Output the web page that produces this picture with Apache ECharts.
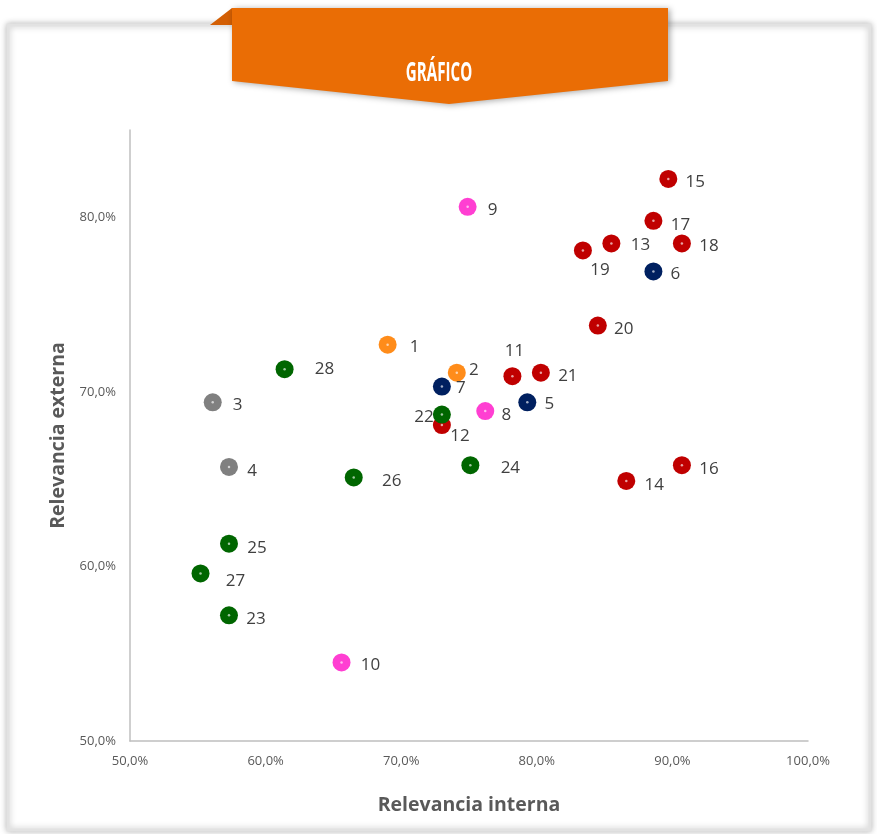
<!DOCTYPE html>
<html>
<head>
<meta charset="utf-8">
<script src="https://cdn.jsdelivr.net/npm/echarts@6/dist/echarts.min.js"></script>
<style>
html,body{margin:0;padding:0;background:#fff;}
#c{width:877px;height:834px;}
</style>
</head>
<body>
<div id="c"></div>
<script>
// ---- data ----
const ids = [1,2,3,4,5,6,7,8,9,10,11,12,13,14,15,16,17,18,19,20,21,22,23,24,25,26,27,28];
const interna = [0.690,0.741,0.561,0.573,0.793,0.886,0.730,0.762,0.749,0.656,0.782,0.730,0.855,0.866,0.897,0.907,0.886,0.907,0.834,0.845,0.803,0.730,0.573,0.751,0.573,0.665,0.552,0.614];
const externa = [0.727,0.711,0.694,0.657,0.694,0.769,0.703,0.689,0.806,0.545,0.709,0.681,0.785,0.649,0.822,0.658,0.798,0.785,0.781,0.738,0.711,0.687,0.572,0.658,0.613,0.651,0.596,0.713];
const grupo = ['naranja','naranja','gris','gris','azul','azul','azul','rosa','rosa','rosa','rojo','rojo','rojo','rojo','rojo','rojo','rojo','rojo','rojo','rojo','rojo','verde','verde','verde','verde','verde','verde','verde'];
const xTicks = [0.5,0.6,0.7,0.8,0.9,1.0];
const yTicks = [0.5,0.6,0.7,0.8];

// ---- styling / layout ----
const colors = {rojo:'#C00000', azul:'#002060', verde:'#006600', rosa:'#FF3FD2', naranja:'#FF8C1A', gris:'#808080'};
const labelOffset = {
  1:[27,2],2:[17,-2],3:[25,3],4:[23,4],5:[22,2],6:[22,3],7:[19,2],8:[21,4],9:[25,3],10:[29,3],
  11:[2,-25],12:[18,11],13:[29,2],14:[28,4],15:[27,3],16:[27,4],17:[27,4],18:[27,3],19:[17,20],
  20:[26,4],21:[27,4],22:[-18,3],23:[27,4],24:[40,3],25:[28,4],26:[38,4],27:[35,8],28:[40,0]
};
const fmt = v => (v*100).toFixed(1).replace('.', ',') + '%';

const groups = ['naranja','gris','azul','rosa','rojo','verde'];
const series = groups.map(g => ({
  type:'scatter', name:g, symbolSize:18,
  itemStyle:{color:colors[g], opacity:1},
  data: ids.map((id,i)=>({id, i})).filter(o=>grupo[o.i]===g).map(o=>({
    value:[interna[o.i], externa[o.i]],
    label:{show:true, formatter:String(o.id), position:'inside', offset:labelOffset[o.id]}
  })),
  label:{color:'#404040', fontSize:17, fontFamily:'Open Sans, Liberation Sans, sans-serif', align:'center', verticalAlign:'middle'},
  emphasis:{disabled:true}, z:3
}));
series.push({
  type:'scatter', symbolSize:2.5, silent:true, z:4,
  itemStyle:{color:'rgba(255,255,255,0.8)'},
  data: ids.map((id,i)=>[interna[i], externa[i]])
});

const chart = echarts.init(document.getElementById('c'), null, {renderer:'canvas'});
chart.setOption({
  animation:false,
  backgroundColor:'#ffffff',
  grid:{left:130, right:69, top:130, bottom:93, containLabel:false},
  xAxis:{
    type:'value', min:xTicks[0], max:xTicks[xTicks.length-1], interval:0.1,
    splitLine:{show:false}, axisTick:{show:false},
    axisLine:{show:true, lineStyle:{color:'#BFBFBF', width:1.5}},
    axisLabel:{color:'#595959', fontSize:13, fontFamily:'Open Sans, sans-serif', margin:14, formatter:fmt},
    name:'Relevancia interna', nameLocation:'middle', nameGap:54,
    nameTextStyle:{color:'#595959', fontSize:19.5, fontWeight:'bold', fontFamily:'Open Sans, sans-serif'}
  },
  yAxis:{
    type:'value', min:yTicks[0], max:0.85, interval:0.1,
    splitLine:{show:false}, axisTick:{show:false},
    axisLine:{show:true, lineStyle:{color:'#BFBFBF', width:1.5}},
    axisLabel:{color:'#595959', fontSize:13, fontFamily:'Open Sans, sans-serif', margin:14, showMaxLabel:false,
      formatter:v => yTicks.some(t=>Math.abs(t-v)<1e-6) ? fmt(v) : ''},
    name:'Relevancia externa', nameLocation:'middle', nameGap:62,
    nameTextStyle:{color:'#595959', fontSize:19.5, fontWeight:'bold', fontFamily:'Open Sans, sans-serif'}
  },
  graphic:[
    {type:'rect', z:-10, shape:{x:8, y:25, width:862, height:805},
      style:{fill:'#ffffff', stroke:'#e2e2e2', lineWidth:3, shadowBlur:6, shadowColor:'rgba(0,0,0,0.25)'}},
    {type:'polygon', z:10, shape:{points:[[210,25],[232,8],[232,25]]}, style:{fill:'#D35F04'}},
    {type:'polygon', z:10, shape:{points:[[232,8],[668,8],[668,81],[449,104],[232,81]]},
      style:{fill:'#EA6D05', shadowBlur:6, shadowOffsetX:2, shadowOffsetY:1, shadowColor:'rgba(0,0,0,0.35)'}},
    {type:'text', z:11, x:439, y:73, scaleX:0.56, style:{text:'GRÁFICO', fill:'#ffffff', fontSize:27, fontWeight:'bold',
      fontFamily:'Open Sans, sans-serif', align:'center', verticalAlign:'middle'}}
  ],
  series
});
</script>
</body>
</html>
